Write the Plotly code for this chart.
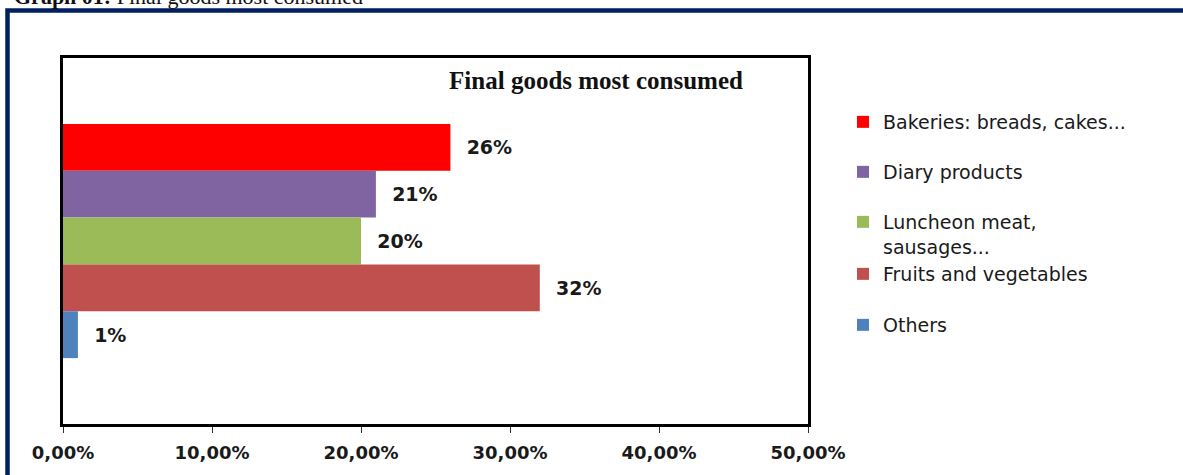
import plotly.graph_objects as go

category = ["Final goods"]
series_names = ["Bakeries: breads, cakes...", "Diary products",
                "Luncheon meat,<br>sausages...", "Fruits and vegetables", "Others"]
series_values = [0.26, 0.21, 0.20, 0.32, 0.01]
series_colors = ["#FF0000", "#8064A2", "#9BBB59", "#C0504D", "#4F81BD"]
x_ticks = [0, 0.1, 0.2, 0.3, 0.4, 0.5]

W, H = 1183, 475
L, R, T, B = 63, 808, 58, 424  # plot area in pixels


def px_x(p):
    return (p - L) / (R - L)


def px_y(p):
    return (B - p) / (B - T)


legend_text_y = [122, 172, 234.5, 274, 325]

fig = go.Figure()
legend_names = ["legend", "legend2", "legend3", "legend4", "legend5"]
for i, (name, val, col) in enumerate(zip(series_names, series_values, series_colors)):
    fig.add_trace(go.Bar(
        y=category, x=[val], name=name, orientation="h",
        marker=dict(color=col, line=dict(width=0)),
        texttemplate="\u00a0\u00a0%{x:.0%}", textposition="outside",
        textfont=dict(family="DejaVu Sans", size=19, color="#1a1a1a", weight="bold"),
        cliponaxis=False, legend=legend_names[i],
    ))

legend_common = dict(
    xref="paper", yref="paper", x=px_x(843), xanchor="left", yanchor="middle",
    font=dict(family="DejaVu Sans", size=19, color="#1a1a1a"),
    bgcolor="rgba(0,0,0,0)", itemwidth=30, valign="top",
)
layout_legends = {}
for i, ln in enumerate(legend_names):
    layout_legends[ln] = dict(legend_common, y=px_y(legend_text_y[i]))

fig.update_layout(
    width=W, height=H,
    margin=dict(l=L, r=W - R, t=T, b=H - B, pad=0),
    paper_bgcolor="white", plot_bgcolor="white",
    separators=",.",
    barmode="group", bargap=0.36, bargroupgap=0,
    showlegend=True,
    title=dict(text="<b>Final goods most consumed</b>", xref="paper", x=px_x(596),
               xanchor="center", yref="container", y=1 - 80 / H, yanchor="middle",
               font=dict(family="Liberation Serif", size=25, color="#111")),
    xaxis=dict(range=[0, 0.5], tickvals=x_ticks, tickformat=".2%",
               showgrid=False, zeroline=False,
               showline=True, linecolor="black", linewidth=3, mirror=True,
               ticks="outside", ticklen=6, tickwidth=1, tickcolor="#333",
               ticklabelstandoff=4,
               tickfont=dict(family="DejaVu Sans", size=18, color="#1a1a1a", weight="bold")),
    yaxis=dict(type="category", range=[0.5, -0.5], showticklabels=False,
               showgrid=False, zeroline=False,
               showline=True, linecolor="black", linewidth=3, mirror=True, ticks=""),
    shapes=[dict(type="rect", xref="paper", yref="paper",
                 x0=px_x(7.5), x1=px_x(1250), y0=px_y(10.5), y1=px_y(560),
                 line=dict(color="#002060", width=4.5), fillcolor="rgba(0,0,0,0)",
                 layer="below")],
    annotations=[dict(text="<b>Graph 01:</b> Final goods most consumed",
                      xref="paper", yref="paper", x=px_x(12), y=px_y(-4),
                      xanchor="left", yanchor="middle", showarrow=False,
                      font=dict(family="Liberation Serif", size=22, color="#111"))],
    **layout_legends,
)

fig.write_html("out.html", config={"displayModeBar": False},
               post_script="document.body.style.margin='0';document.body.style.overflow='hidden';")
